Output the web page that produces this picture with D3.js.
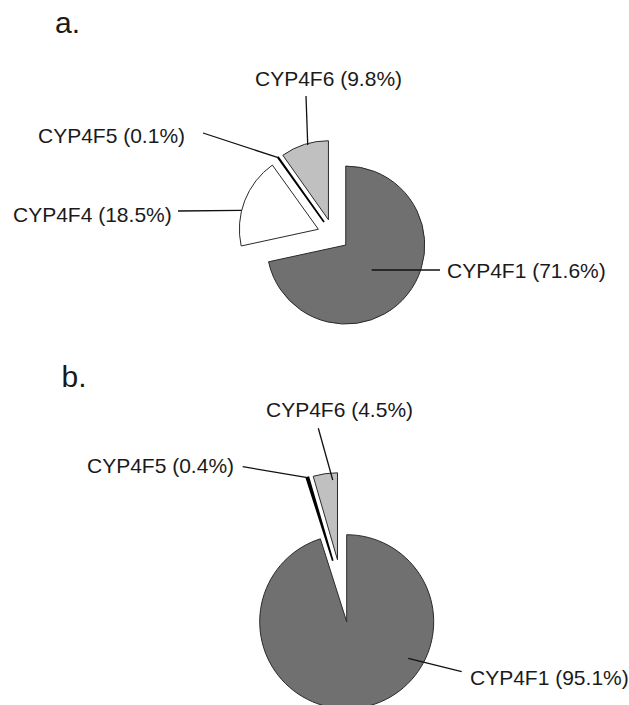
<!DOCTYPE html>
<html>
<head>
<meta charset="utf-8">
<script src="https://cdn.jsdelivr.net/npm/d3@7"></script>
<style>
  html, body { margin: 0; padding: 0; background: #fff; }
  svg text { font-family: "Liberation Sans", Arial, sans-serif; fill: #1a1a1a; }
</style>
</head>
<body>
<svg id="chart" width="629" height="705"></svg>
<script>
// ---- data ----
const categories = ["CYP4F1", "CYP4F4", "CYP4F5", "CYP4F6"];
const valuesA = [71.6, 18.5, 0.1, 9.8];
const categoriesB = ["CYP4F1", "CYP4F5", "CYP4F6"];
const valuesB = [95.1, 0.4, 4.5];
const panelLabels = ["a.", "b."];

// ---- styles ----
const fills = { CYP4F1: "#707070", CYP4F4: "#ffffff", CYP4F5: "#000000", CYP4F6: "#c0c0c0" };

// ---- layout ----
const panels = [
  {
    title: panelLabels[0], titleX: 55, titleY: 33,
    cats: categories, vals: valuesA,
    cx: 333.3, cy: 235, r: 79, explode: 16,
    labels: {
      CYP4F1: { x: 447, y: 278, anchor: "start", lx: 440, ly: 270, ang: 133.9, rad: 36 },
      CYP4F4: { x: 13, y: 221.5, anchor: "start", lx: 178, ly: 211, ang: 283.8, rad: 79 },
      CYP4F5: { x: 38, y: 143, anchor: "start", lx: 203, ly: 133, ang: null, rad: 79 },
      CYP4F6: { x: 255, y: 85.5, anchor: "start", lx: 306, ly: 96, ang: 344.5, rad: 77.5 }
    }
  },
  {
    title: panelLabels[1], titleX: 61.5, titleY: 386.5,
    cats: categoriesB, vals: valuesB,
    cx: 341.9, cy: 590.8, r: 87, explode: 31.3,
    labels: {
      CYP4F1: { x: 470, y: 685, anchor: "start", lx: 461.7, ly: 671.7, ang: 120.7, rad: 71.6 },
      CYP4F5: { x: 87, y: 473, anchor: "start", lx: 242.7, ly: 466.7, ang: null, rad: 87 },
      CYP4F6: { x: 266, y: 417, anchor: "start", lx: 318.3, ly: 428.3, ang: 356.6, rad: 80 }
    }
  }
];

const svg = d3.select("#chart");
const deg = Math.PI / 180;

panels.forEach(p => {
  svg.append("text")
    .attr("x", p.titleX).attr("y", p.titleY)
    .attr("font-size", 30)
    .text(p.title);

  const data = p.cats.map((c, i) => ({ cat: c, value: p.vals[i] }));
  const pie = d3.pie().sort(null).value(d => d.value);
  const arc = d3.arc().innerRadius(0).outerRadius(p.r);
  const arcs = pie(data);

  const g = svg.append("g").attr("transform", `translate(${p.cx},${p.cy})`);

  arcs.forEach(a => {
    const mid = (a.startAngle + a.endAngle) / 2;
    const [ox, oy] = d3.pointRadial(mid, p.explode);
    const sg = g.append("g").attr("transform", `translate(${ox},${oy})`);
    const dark = a.data.cat === "CYP4F5";
    sg.append("path")
      .attr("d", arc(a))
      .attr("fill", fills[a.data.cat])
      .attr("stroke", dark ? "#000" : "#2a2a2a")
      .attr("stroke-width", dark ? 1.7 : 1)
      .attr("stroke-linejoin", "miter");

    const lab = p.labels[a.data.cat];
    if (lab) {
      const ang = lab.ang == null ? mid : lab.ang * deg;
      const [px, py] = d3.pointRadial(ang, lab.rad);
      const sx = p.cx + ox + px, sy = p.cy + oy + py;
      svg.append("line")
        .attr("x1", sx).attr("y1", sy)
        .attr("x2", lab.lx).attr("y2", lab.ly)
        .attr("stroke", "#111").attr("stroke-width", 1.3);
      const v = a.data.value;
      svg.append("text")
        .attr("x", lab.x).attr("y", lab.y)
        .attr("text-anchor", lab.anchor)
        .attr("font-size", 21)
        .text(`${a.data.cat} (${v.toFixed(1)}%)`);
    }
  });
});
</script>
</body>
</html>
